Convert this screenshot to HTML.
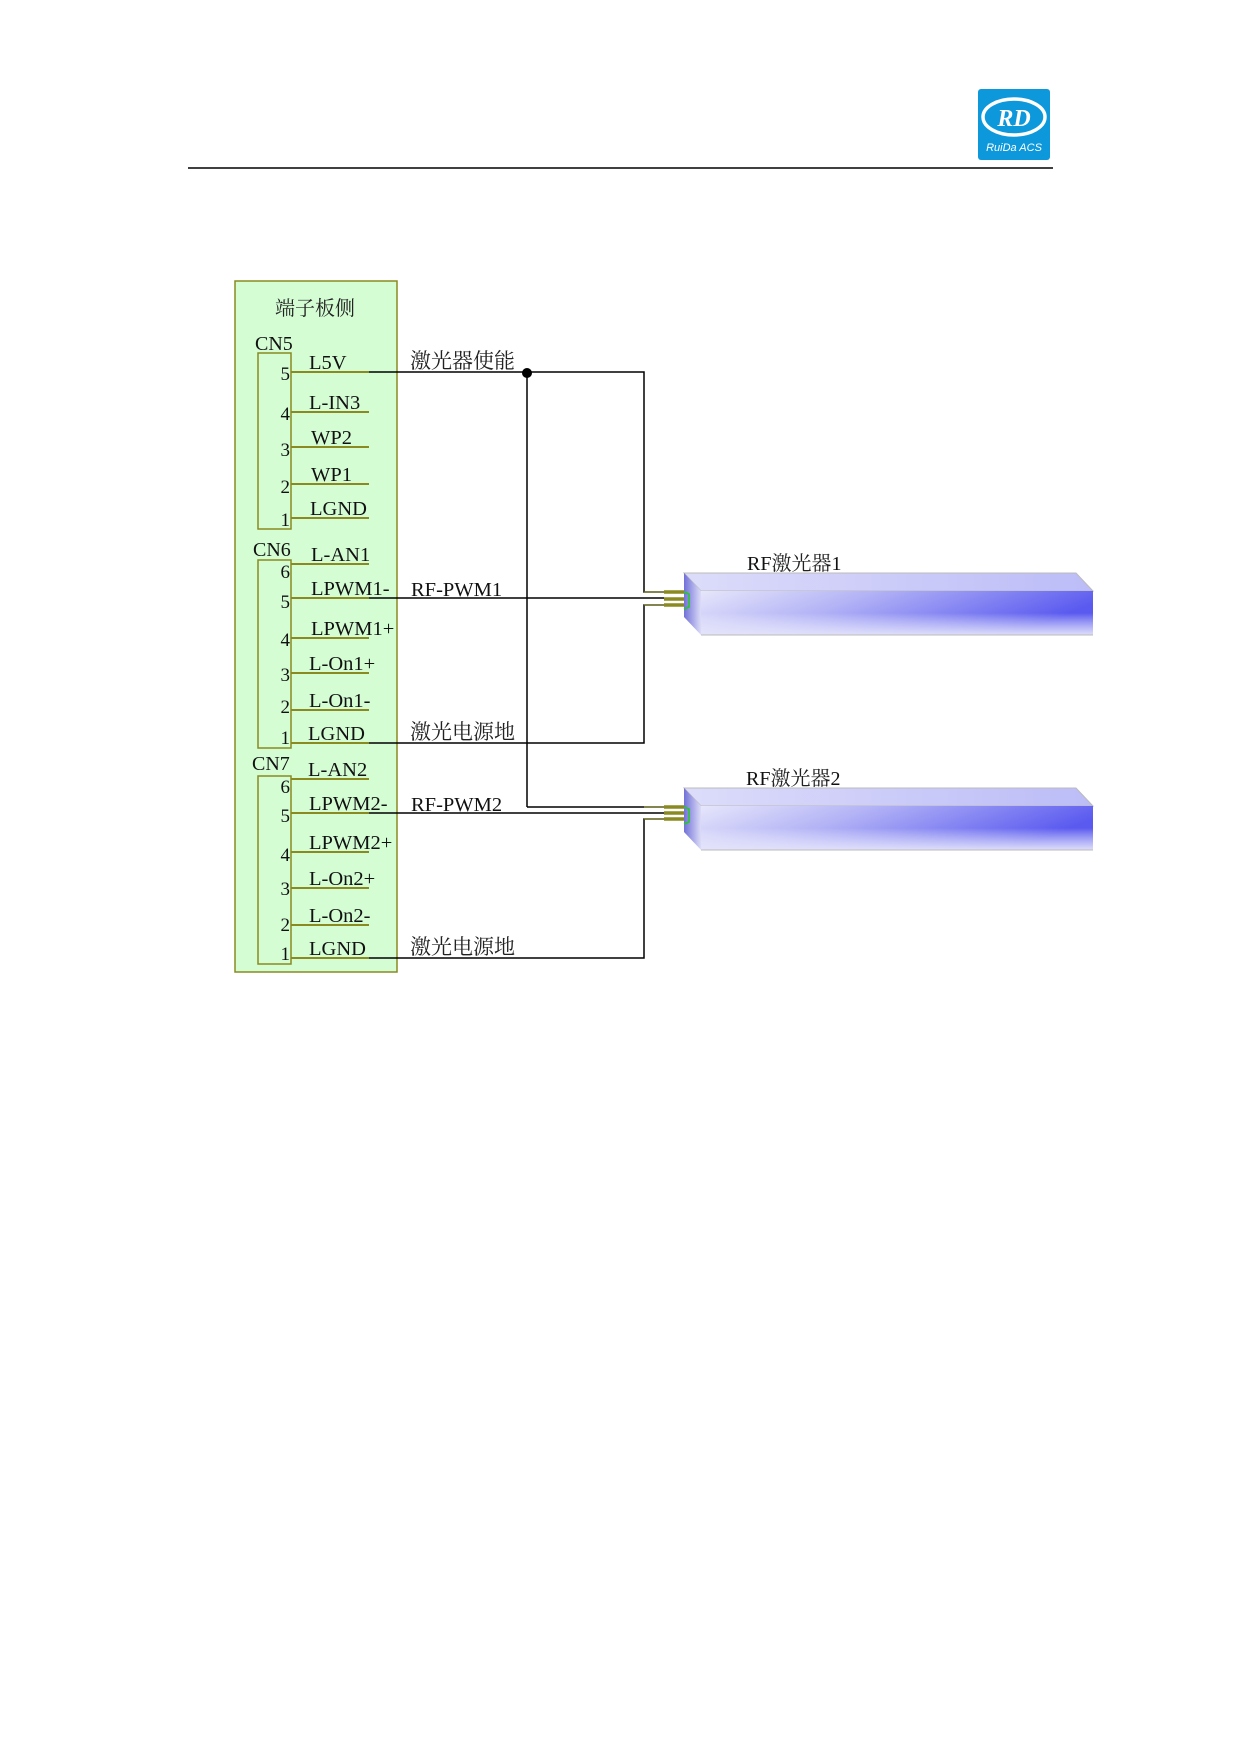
<!DOCTYPE html>
<html><head><meta charset="utf-8"><style>
html,body{margin:0;padding:0;background:#fff;}
svg{display:block;}
text{font-family:"Liberation Serif","Noto Serif CJK SC",serif;fill:#111;}
.cjk{font-family:"Liberation Serif","Noto Serif CJK SC","Noto Sans CJK SC",serif;fill:#222;}
</style></head><body>
<svg width="1240" height="1754" viewBox="0 0 1240 1754" xmlns="http://www.w3.org/2000/svg">
<defs>
<linearGradient id="side" x1="0" y1="0" x2="1" y2="0.3">
<stop offset="0" stop-color="#e6e6fb"/><stop offset="0.4" stop-color="#b4b4f6"/><stop offset="1" stop-color="#5a5af0"/>
</linearGradient>
<linearGradient id="sideV" x1="0" y1="0" x2="0" y2="1">
<stop offset="0" stop-color="#fff" stop-opacity="0"/><stop offset="0.5" stop-color="#fff" stop-opacity="0"/><stop offset="1" stop-color="#e4e4fb" stop-opacity="0.95"/>
</linearGradient>
<linearGradient id="top" x1="0" y1="0" x2="1" y2="0">
<stop offset="0" stop-color="#dcdcfa"/><stop offset="1" stop-color="#bcbcf8"/>
</linearGradient>
<linearGradient id="front" x1="0" y1="0" x2="1" y2="0">
<stop offset="0" stop-color="#7070d8"/><stop offset="1" stop-color="#dcdcf8"/>
</linearGradient>
<g id="laser">
<polygon points="684,0 1076,0 1093,18 701,18" fill="url(#top)" stroke="#bbb" stroke-width="1"/>
<rect x="701" y="18" width="392" height="44" fill="url(#side)"/>
<rect x="701" y="18" width="392" height="44" fill="url(#sideV)"/>
<line x1="701" y1="62" x2="1093" y2="62" stroke="#bbb"/>
<polygon points="684,0 701,18 701,62 684,44" fill="url(#front)"/>
<polyline points="684,19 689,21 689,34 684,36" fill="none" stroke="#2c2" stroke-width="1.5"/>
</g>
</defs>

<line x1="188" y1="168" x2="1053" y2="168" stroke="#000" stroke-width="1.5"/>
<rect x="978" y="89" width="72" height="71" rx="3" fill="#0e98dc"/>
<ellipse cx="1014" cy="117" rx="31" ry="18" fill="none" stroke="#fff" stroke-width="3.5"/>
<text x="1014" y="126" text-anchor="middle" style="font-family:'Liberation Serif',serif;font-style:italic;font-weight:bold;font-size:24px;fill:#fff">RD</text>
<text x="1014" y="151" text-anchor="middle" style="font-family:'Liberation Sans',sans-serif;font-style:italic;font-size:11px;fill:#fff">RuiDa ACS</text>

<rect x="235" y="281" width="162" height="691" fill="#d4fdd4" stroke="#8a8a20" stroke-width="1.5"/>
<text class="cjk" x="275" y="315" font-size="20">端子板侧</text>
<g fill="none" stroke="#8a8a20" stroke-width="1.5">
<rect x="258" y="353" width="33" height="176"/>
<rect x="258" y="560" width="33" height="188"/>
<rect x="258" y="776" width="33" height="188"/>
</g>
<text x="255" y="350" font-size="20">CN5</text>
<text x="253" y="556" font-size="20">CN6</text>
<text x="252" y="770" font-size="20">CN7</text>

<g stroke="#8a8a20" stroke-width="2">
<line x1="291" y1="372" x2="369" y2="372"/><line x1="291" y1="412" x2="369" y2="412"/>
<line x1="291" y1="447" x2="369" y2="447"/><line x1="291" y1="484" x2="369" y2="484"/>
<line x1="291" y1="518" x2="369" y2="518"/>
<line x1="291" y1="564" x2="369" y2="564"/><line x1="291" y1="598" x2="369" y2="598"/>
<line x1="291" y1="638" x2="369" y2="638"/><line x1="291" y1="673" x2="369" y2="673"/>
<line x1="291" y1="710" x2="369" y2="710"/><line x1="291" y1="743" x2="369" y2="743"/>
<line x1="291" y1="779" x2="369" y2="779"/><line x1="291" y1="813" x2="369" y2="813"/>
<line x1="291" y1="852" x2="369" y2="852"/><line x1="291" y1="888" x2="369" y2="888"/>
<line x1="291" y1="925" x2="369" y2="925"/><line x1="291" y1="958" x2="369" y2="958"/>
</g>
<g font-size="19" text-anchor="end">
<text x="290" y="380">5</text><text x="290" y="420">4</text><text x="290" y="456">3</text><text x="290" y="493">2</text><text x="290" y="526">1</text>
<text x="290" y="578">6</text><text x="290" y="608">5</text><text x="290" y="646">4</text><text x="290" y="681">3</text><text x="290" y="713">2</text><text x="290" y="744">1</text>
<text x="290" y="793">6</text><text x="290" y="822">5</text><text x="290" y="861">4</text><text x="290" y="895">3</text><text x="290" y="931">2</text><text x="290" y="960">1</text>
</g>
<g font-size="20.5">
<text x="309" y="369">L5V</text><text x="309" y="409">L-IN3</text><text x="311" y="444">WP2</text>
<text x="311" y="481">WP1</text><text x="310" y="515">LGND</text>
<text x="311" y="561">L-AN1</text><text x="311" y="595">LPWM1-</text><text x="311" y="635">LPWM1+</text>
<text x="309" y="670">L-On1+</text><text x="309" y="707">L-On1-</text><text x="308" y="740">LGND</text>
<text x="308" y="776">L-AN2</text><text x="309" y="810">LPWM2-</text><text x="309" y="849">LPWM2+</text>
<text x="309" y="885">L-On2+</text><text x="309" y="922">L-On2-</text><text x="309" y="955">LGND</text>
</g>

<g fill="none" stroke="#000" stroke-width="1.5">
<polyline points="369,372 644,372 644,592 664,592"/>
<line x1="527" y1="372" x2="527" y2="807"/>
<polyline points="527,807 644,807 664,807"/>
<line x1="369" y1="598" x2="664" y2="598"/>
<polyline points="369,743 644,743 644,605 664,605"/>
<line x1="369" y1="813" x2="664" y2="813"/>
<polyline points="369,958 644,958 644,819 664,819"/>
</g>
<circle cx="527" cy="373" r="5" fill="#000"/>
<g stroke="#8a8a20" stroke-width="3.5">
<line x1="664" y1="592" x2="685" y2="592"/><line x1="664" y1="599" x2="685" y2="599"/><line x1="664" y1="605" x2="685" y2="605"/>
<line x1="664" y1="807" x2="685" y2="807"/><line x1="664" y1="813" x2="685" y2="813"/><line x1="664" y1="819" x2="685" y2="819"/>
</g>
<g stroke="#8a8a20" stroke-width="1">
<line x1="644" y1="592" x2="664" y2="592"/><line x1="644" y1="605" x2="664" y2="605"/>
<line x1="644" y1="807" x2="664" y2="807"/><line x1="644" y1="819" x2="664" y2="819"/>
</g>

<text class="cjk" x="410" y="368" font-size="21">激光器使能</text>
<text x="411" y="596" font-size="20.5">RF-PWM1</text>
<text class="cjk" x="410" y="739" font-size="21">激光电源地</text>
<text x="411" y="811" font-size="20.5">RF-PWM2</text>
<text class="cjk" x="410" y="954" font-size="21">激光电源地</text>

<use href="#laser" transform="translate(0,573)"/>
<use href="#laser" transform="translate(0,788)"/>
<text x="747" y="570" font-size="20">RF<tspan class="cjk">激光器</tspan>1</text>
<text x="746" y="785" font-size="20">RF<tspan class="cjk">激光器</tspan>2</text>
</svg>
</body></html>
